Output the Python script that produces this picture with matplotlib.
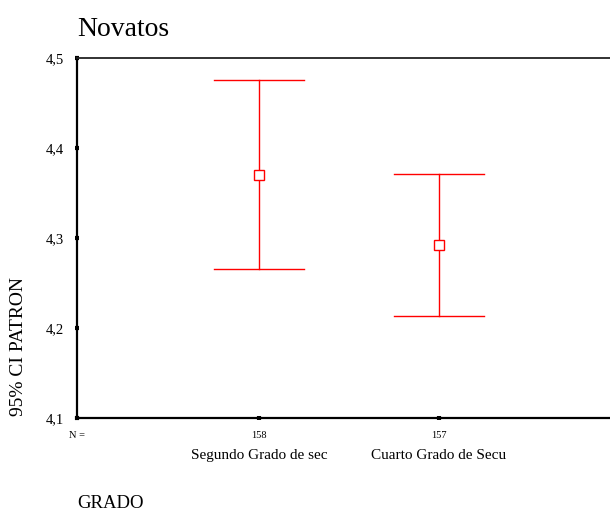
import matplotlib.pyplot as plt

plt.rcParams['font.family'] = ['Liberation Serif', 'DejaVu Serif']

# Medias e intervalos de confianza al 95% de PATRON por grado
grados = ["Segundo Grado de sec", "Cuarto Grado de Secu"]
n_casos = ["158", "157"]
medias = [4.370, 4.292]
ic_inf = [4.266, 4.213]
ic_sup = [4.476, 4.371]

x_pos = [1, 2]
x_min, x_max = -0.012, 2.95

fig = plt.figure(figsize=(6.10, 5.15), dpi=100)
ax = fig.add_axes([77 / 610, 97 / 515, 1 - 77 / 610, 360 / 515])

rojo = '#ff0000'
for x, m, lo, hi in zip(x_pos, medias, ic_inf, ic_sup):
    ax.plot([x, x], [lo, hi], color=rojo, lw=1.0)
    ax.plot([x - 0.25, x + 0.25], [lo, lo], color=rojo, lw=1.0)
    ax.plot([x - 0.25, x + 0.25], [hi, hi], color=rojo, lw=1.0)
    ax.plot(x, m, marker='s', ms=6.5, mfc='white', mec=rojo, mew=1.0, ls='none', zorder=3)

ax.set_xlim(x_min, x_max)
ax.set_ylim(4.1, 4.5)
ax.set_yticks([4.1, 4.2, 4.3, 4.4, 4.5])
ax.set_yticklabels(["4,1", "4,2", "4,3", "4,4", "4,5"], fontsize=10.5)
ax.set_xticks([x_min] + x_pos)
ax.set_xticklabels(["N ="] + n_casos, fontsize=7.5)

ax.spines['right'].set_visible(False)
for s in ['left', 'bottom']:
    ax.spines[s].set_linewidth(1.6)
ax.spines['top'].set_linewidth(1.3)
ax.spines['top'].set_color('#222222')
ax.tick_params(direction='inout', length=3, width=3, pad=8, colors='black')
ax.tick_params(axis='y', pad=8)

for x, g in zip(x_pos, grados):
    ax.annotate(g, xy=(x, 0), xycoords=('data', 'axes fraction'),
                xytext=(0, -27), textcoords='offset points',
                ha='center', va='center', fontsize=11)

fig.text(77 / 610, 1 - 30 / 515, "Novatos", fontsize=20, ha='left', va='center')
fig.text(19 / 610, 1 - 346 / 515, "95% CI PATRON", fontsize=14, rotation=90,
         ha='center', va='center')
fig.text(77 / 610, 1 - 503 / 515, "GRADO", fontsize=13.5, ha='left', va='center')

fig.savefig('out.png', dpi=100)
